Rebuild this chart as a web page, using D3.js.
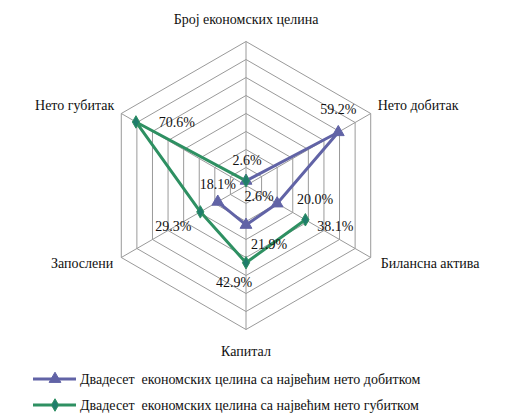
<!DOCTYPE html>
<meta charset="utf-8">
<script src="https://d3js.org/d3.v7.min.js"></script>
<style>
  body { margin: 0; background: #fff; }
</style>
<div id="chart"></div>
<script>
  // axes, clockwise from top
  const axes = ["Број економских целина", "Нето добитак", "Билансна актива", "Капитал", "Запослени", "Нето губитак"];
  const seriesNames = ["Двадесет  економских целина са највећим нето добитком",
                       "Двадесет  економских целина са највећим нето губитком"];
  const profitValues = [2.6, 59.2, 20.0, 21.9, 18.1, null];
  const lossValues = [2.6, null, 38.1, 42.9, 29.3, 70.6];
  const ringTicks = [10, 20, 30, 40, 50, 60, 70, 80];

  const width = 510, height = 417;
  const cx = 246, cy = 185.5, R = 144;
  const fontStack = "'Liberation Serif', 'Noto Serif', 'DejaVu Serif'";

  const svg = d3.select("#chart").append("svg")
    .attr("width", width).attr("height", height);

  const r = d3.scaleLinear().domain([0, 80]).range([0, R]);
  const angle = i => i * Math.PI / 3;
  const pt = (i, v) => [cx + r(v) * Math.sin(angle(i)), cy - r(v) * Math.cos(angle(i))];

  // grid hexagons
  const line = d3.line();
  svg.append("g").selectAll("path")
    .data(ringTicks)
    .enter().append("path")
    .attr("d", t => line(axes.map((a, i) => pt(i, t))) + "Z")
    .attr("fill", "none")
    .attr("stroke", "#9a9a9a")
    .attr("stroke-width", 1);

  // spokes
  svg.append("g").selectAll("line")
    .data(axes)
    .enter().append("line")
    .attr("x1", cx).attr("y1", cy)
    .attr("x2", (d, i) => pt(i, 80)[0]).attr("y2", (d, i) => pt(i, 80)[1])
    .attr("stroke", "#9a9a9a").attr("stroke-width", 1);

  // axis labels
  const axisLabelPos = [[0, -23, "middle"], [7, -9, "start"], [10, 5, "start"], [0, 21, "middle"], [-8, 5, "end"], [-7, -9, "end"]];
  svg.append("g").selectAll("text")
    .data(axes)
    .enter().append("text")
    .attr("x", (d, i) => pt(i, 80)[0] + axisLabelPos[i][0])
    .attr("y", (d, i) => pt(i, 80)[1] + axisLabelPos[i][1] + 5)
    .attr("text-anchor", (d, i) => axisLabelPos[i][2])
    .style("font-family", fontStack)
    .attr("font-size", 14)
    .attr("fill", "#111")
    .text(d => d);

  const series = [
    { name: seriesNames[0], values: profitValues, color: "#6163a6", marker: d3.symbolTriangle, fill: "#6163a6", size: 60,
      labelOff: [[13, 15], [0, -23], [38, -5], [23, 19], [0, -18], [0, 0]] },
    { name: seriesNames[1], values: lossValues, color: "#2e9062", marker: d3.symbolDiamond, fill: "#1f7d6b", size: 45,
      labelOff: [[1, -21], [0, 0], [30, 6], [-12, 19], [-27, 14], [41, 0]] }
  ];

  const radarLine = d3.line()
    .defined(d => d.v != null)
    .x(d => pt(d.i, d.v)[0])
    .y(d => pt(d.i, d.v)[1]);

  series.forEach(s => {
    const pts = s.values.map((v, i) => ({ v: v, i: i }));
    const closed = pts.concat([pts[0]]);
    svg.append("path")
      .attr("d", radarLine(closed))
      .attr("fill", "none")
      .attr("stroke", s.color)
      .attr("stroke-width", 3)
      .attr("stroke-linejoin", "round");
  });

  series.forEach(s => {
    const pts = s.values.map((v, i) => ({ v: v, i: i })).filter(d => d.v != null);
    svg.append("g").selectAll("path")
      .data(pts)
      .enter().append("path")
      .attr("d", d3.symbol().type(s.marker).size(s.size))
      .attr("transform", d => "translate(" + pt(d.i, d.v) + ")")
      .attr("fill", s.fill)
      .attr("stroke", s.color)
      .attr("stroke-width", 1);
    svg.append("g").selectAll("text")
      .data(pts)
      .enter().append("text")
      .attr("x", d => pt(d.i, d.v)[0] + s.labelOff[d.i][0])
      .attr("y", d => pt(d.i, d.v)[1] + s.labelOff[d.i][1] + 5)
      .attr("text-anchor", "middle")
      .style("font-family", fontStack)
      .attr("font-size", 14)
      .attr("fill", "#111")
      .text(d => d.v.toFixed(1) + "%");
  });

  // legend
  const legend = svg.append("g");
  series.forEach((s, k) => {
    const y = 379 + k * 26;
    legend.append("line")
      .attr("x1", 33).attr("x2", 76).attr("y1", y).attr("y2", y)
      .attr("stroke", s.color).attr("stroke-width", 3);
    legend.append("path")
      .attr("d", d3.symbol().type(s.marker).size(s.size)())
      .attr("transform", "translate(55," + y + ")")
      .attr("fill", s.fill).attr("stroke", s.color);
    legend.append("text")
      .attr("x", 80).attr("y", y + 5)
      .style("font-family", fontStack)
      .attr("font-size", 14)
      .attr("fill", "#111")
      .style("white-space", "pre")
      .text(s.name);
  });
</script>
